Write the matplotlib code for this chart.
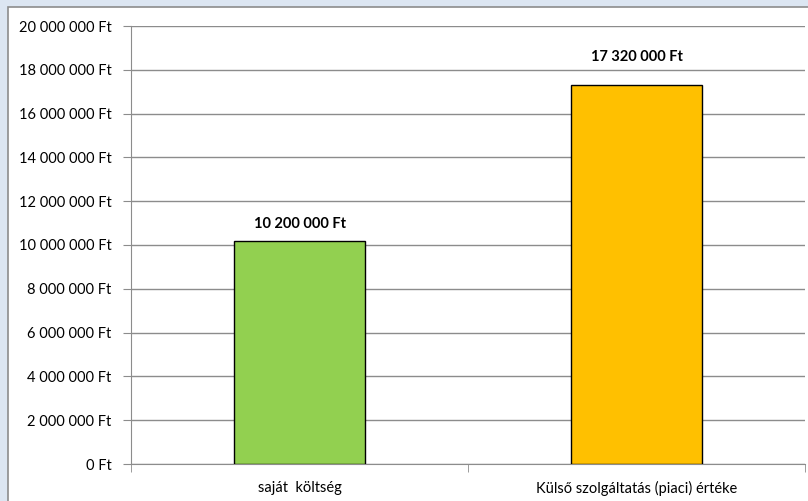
import matplotlib.pyplot as plt
from matplotlib.patches import Rectangle
from matplotlib.ticker import FuncFormatter

categories = ['saját  költség', 'Külső szolgáltatás (piaci) értéke']
values = [10200000, 17320000]
bar_colors = ['#92d050', '#ffc000']
y_ticks = list(range(0, 20000001, 2000000))

plt.rcParams['font.family'] = ['Lato', 'DejaVu Sans']


def ft(v, pos=None):
    s = f'{int(v):,}'.replace(',', ' ')
    return f'{s} Ft'


fig = plt.figure(figsize=(8.08, 5.01), dpi=100)
fig.patch.set_facecolor('#dce6f2')
# white chart panel with grey border
panel = Rectangle((7.5 / 808, -0.01), 1.0, 1 - 7.5 / 501 + 0.01,
                  transform=fig.transFigure, facecolor='white',
                  edgecolor='#8c8c8c', linewidth=1.2, zorder=-5)
fig.add_artist(panel)

ax = fig.add_axes([131 / 808, 37 / 501, 674 / 808, 438 / 501])
ax.set_zorder(5)
ax.set_facecolor('none')

x = range(len(categories))
ax.bar(x, values, width=0.386, color=bar_colors, edgecolor='black',
       linewidth=1.0, zorder=3)
# label gap above bar top (points), as in the original layout
label_gap = [12, 20]
for i, v in enumerate(values):
    ax.annotate(ft(v), (i, v), xytext=(0, label_gap[i]), textcoords='offset points',
                ha='center', va='center', fontsize=10.5, fontweight='bold',
                color='black')

ax.set_xlim(-0.5, len(categories) - 0.5)
ax.set_ylim(0, 20000000)
ax.set_yticks(y_ticks)
ax.yaxis.set_major_formatter(FuncFormatter(ft))
ax.yaxis.grid(True, color='#8c8c8c', linewidth=1.0, zorder=0)

ax.set_xticks(list(x))
ax.set_xticklabels(categories)
ax.set_xticks([-0.5, 0.5, 1.5], minor=True)
ax.tick_params(axis='x', which='major', length=0, pad=12, labelsize=10.5)
ax.tick_params(axis='x', which='minor', length=6, color='#8c8c8c', direction='out')
ax.tick_params(axis='y', length=6, color='#8c8c8c', labelsize=10.5, pad=8)

for s in ['top', 'right']:
    ax.spines[s].set_visible(False)
ax.spines['left'].set_color('#8c8c8c')
ax.spines['bottom'].set_color('#8c8c8c')

fig.savefig('out.png', dpi=100, facecolor=fig.get_facecolor())
